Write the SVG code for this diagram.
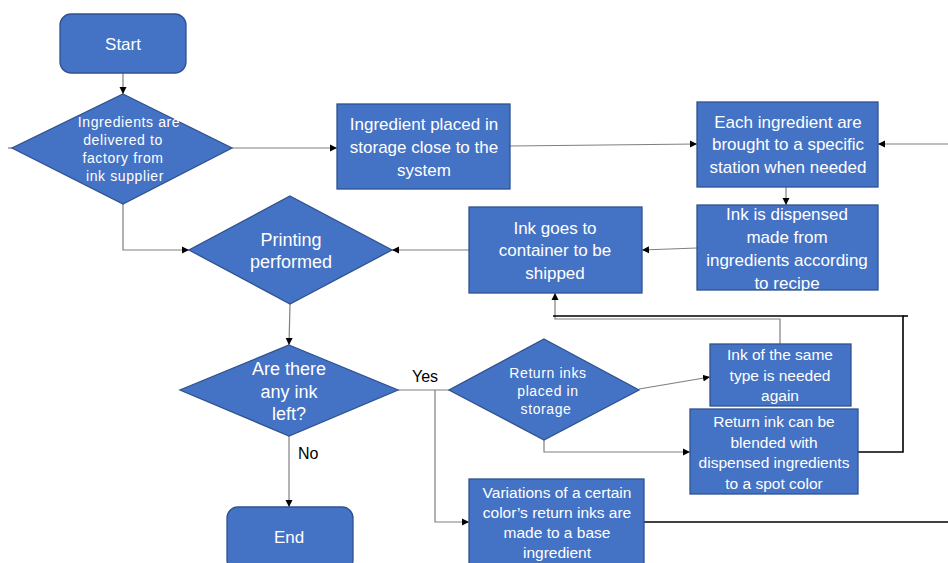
<svg xmlns="http://www.w3.org/2000/svg" width="948" height="563" viewBox="0 0 948 563">
<style>
.n{fill:#4472C4;stroke:#2F528F;stroke-width:1.3}
.t{font-family:"Liberation Sans",Arial,sans-serif;fill:#fff;text-anchor:middle;font-size:17px}
.s{font-size:14px;letter-spacing:0.6px}
.m{font-size:15.5px}
.d{font-size:18px}
.c{fill:none;stroke:#7f7f7f;stroke-width:1.2}
.k{fill:none;stroke:#000;stroke-width:1.6}
.l{font-family:"Liberation Sans",Arial,sans-serif;fill:#000;font-size:16px}
</style>
<defs>
<marker id="a" markerWidth="8" markerHeight="8" refX="7" refY="4" orient="auto" markerUnits="userSpaceOnUse">
<path d="M0,0.5 L7,4 L0,7.5 z" fill="#000"/>
</marker>
</defs>
<rect width="948" height="563" fill="#fff"/>
<g id="connectors">
<path class="c" d="M123,73 V94" stroke="#000" marker-end="url(#a)"/>
<path class="c" d="M8,148 H12"/>
<path class="c" d="M232,148 H337" marker-end="url(#a)"/>
<path class="c" d="M510,146 L697,144" marker-end="url(#a)"/>
<path class="c" d="M948,144 H878" marker-end="url(#a)"/>
<path class="c" d="M786,187 V205" marker-end="url(#a)"/>
<path class="c" d="M697,248 L642,250" marker-end="url(#a)"/>
<path class="c" d="M469,250 H392" marker-end="url(#a)"/>
<path class="c" d="M123,204 V250 H189" marker-end="url(#a)"/>
<path class="c" d="M290,304 L289,345" marker-end="url(#a)"/>
<path class="c" d="M289,436 V507" marker-end="url(#a)"/>
<path class="c" d="M398,390 H449" stroke="#000"/>
<path class="c" d="M435,390 V522 H469" marker-end="url(#a)"/>
<path class="c" d="M639,389 L710,377" stroke="#333" marker-end="url(#a)"/>
<path class="c" d="M544,440 V452 H690" marker-end="url(#a)"/>
<path class="c" d="M780,344 V319 H555 V293" marker-end="url(#a)"/>
<path class="k" d="M858,452 H903 V316 H553" />
<path class="k" d="M903,316 H908"/>
<path class="k" d="M644,522 H948"/>
</g>
<g id="start"><rect class="n" x="60" y="14" width="126" height="59" rx="11"/><text class="t" x="123" y="50" font-size="19">Start</text></g>
<g id="d1"><path class="n" d="M123,94 L232,148 L123,204 L12,148 z"/>
<text class="t s"><tspan x="129" y="127">Ingredients are</tspan><tspan x="123" y="145">delivered to</tspan><tspan x="123" y="163">factory from</tspan><tspan x="125" y="181">ink supplier</tspan></text></g>
<g id="b2"><rect class="n" x="337" y="104" width="173" height="85"/>
<text class="t"><tspan x="424" y="130">Ingredient placed in</tspan><tspan x="424" y="153">storage close to the</tspan><tspan x="424" y="176">system</tspan></text></g>
<g id="b3"><rect class="n" x="697" y="102" width="181" height="85"/>
<text class="t"><tspan x="788" y="128">Each ingredient are</tspan><tspan x="788" y="150">brought to a specific</tspan><tspan x="788" y="173">station when needed</tspan></text></g>
<g id="b4"><rect class="n" x="697" y="205" width="181" height="85"/>
<text class="t"><tspan x="787" y="220">Ink is dispensed</tspan><tspan x="787" y="243">made from</tspan><tspan x="787" y="266">ingredients according</tspan><tspan x="787" y="289">to recipe</tspan></text></g>
<g id="b5"><rect class="n" x="469" y="207" width="173" height="86"/>
<text class="t"><tspan x="555" y="234">Ink goes to</tspan><tspan x="555" y="256">container to be</tspan><tspan x="555" y="279">shipped</tspan></text></g>
<g id="d2"><path class="n" d="M290,196 L392,250 L290,304 L189,250 z"/>
<text class="t d"><tspan x="291" y="246">Printing</tspan><tspan x="291" y="268">performed</tspan></text></g>
<g id="d3"><path class="n" d="M289,345 L398,390 L289,436 L180,390 z"/>
<text class="t d"><tspan x="289" y="375">Are there</tspan><tspan x="289" y="398">any ink</tspan><tspan x="289" y="420">left?</tspan></text></g>
<g id="end"><rect class="n" x="227" y="507" width="126" height="64" rx="11"/><text class="t" x="289" y="543" font-size="18">End</text></g>
<g id="d4"><path class="n" d="M544,339 L639,390 L544,440 L449,390 z"/>
<text class="t s"><tspan x="548" y="378">Return inks</tspan><tspan x="548" y="396">placed in</tspan><tspan x="546" y="414">storage</tspan></text></g>
<g id="b6"><rect class="n" x="710" y="344" width="141" height="62"/>
<text class="t m"><tspan x="780" y="360">Ink of the same</tspan><tspan x="780" y="381">type is needed</tspan><tspan x="780" y="401">again</tspan></text></g>
<g id="b7"><rect class="n" x="690" y="409" width="168" height="85"/>
<text class="t m"><tspan x="774" y="427">Return ink can be</tspan><tspan x="774" y="448">blended with</tspan><tspan x="774" y="468">dispensed ingredients</tspan><tspan x="774" y="489">to a spot color</tspan></text></g>
<g id="b8"><rect class="n" x="469" y="479" width="175" height="90"/>
<text class="t m"><tspan x="557" y="498">Variations of a certain</tspan><tspan x="557" y="518">color’s return inks are</tspan><tspan x="557" y="538">made to a base</tspan><tspan x="557" y="558">ingredient</tspan></text></g>
<text class="l" x="412" y="382">Yes</text>
<text class="l" x="298" y="459">No</text>
</svg>
